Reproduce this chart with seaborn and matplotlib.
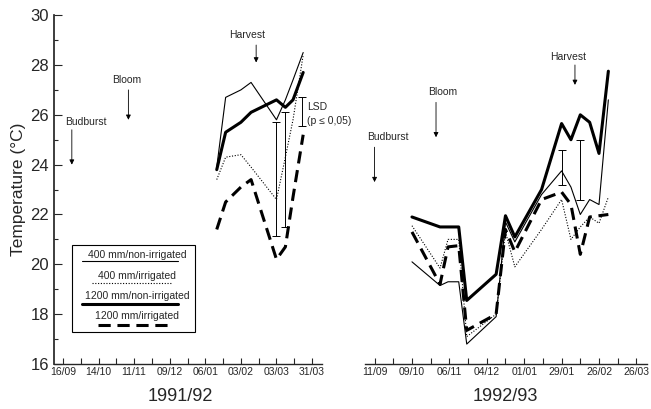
import numpy as np
import pandas as pd
import matplotlib
matplotlib.use("Agg")
import matplotlib.pyplot as plt
import seaborn as sns

# days since first tick (16/09/1991 and 11/09/1992)
days_9192 = [121, 128, 140, 148, 168, 175, 181, 189]
t_400_nonirr_9192 = [23.9, 26.7, 27.0, 27.3, 25.8, 26.6, 27.4, 28.5]
t_400_irr_9192 = [23.4, 24.3, 24.4, 23.9, 22.6, 24.3, 25.8, 28.4]
t_1200_nonirr_9192 = [23.8, 25.3, 25.7, 26.1, 26.6, 26.3, 26.6, 27.7]
t_1200_irr_9192 = [21.4, 22.5, 23.1, 23.4, 20.2, 20.7, 22.7, 25.2]

days_9293 = [28, 49, 55, 63, 69, 91, 98, 105, 125, 140, 147, 154, 161, 168, 175]
t_400_nonirr_9293 = [20.1, 19.15, 19.3, 19.3, 16.8, 17.9, 21.7, 20.9, 22.8, 23.75, 23.1, 22.0, 22.6, 22.4, 26.6]
t_400_irr_9293 = [21.55, 19.85, 21.0, 21.0, 17.1, 18.0, 21.3, 19.9, 21.4, 22.6, 21.0, 21.5, 21.9, 21.65, 22.7]
t_1200_nonirr_9293 = [21.9, 21.5, 21.5, 21.5, 18.55, 19.6, 21.95, 21.1, 23.0, 25.65, 25.0, 26.0, 25.7, 24.45, 27.75]
t_1200_irr_9293 = [21.3, 19.2, 20.7, 20.75, 17.35, 18.0, 21.4, 20.5, 22.6, 22.9, 22.4, 20.4, 21.9, 21.95, 22.0]

# LSD bars: (day, low, high)
lsd_9192 = [(168, 21.15, 25.7), (175, 21.5, 26.1), (188, 25.55, 26.7)]
lsd_9293 = [(140, 23.2, 24.6), (154, 22.6, 25.0)]

ticks_9192 = ["16/09", "14/10", "11/11", "09/12", "06/01", "03/02", "03/03", "31/03"]
ticks_9293 = ["11/09", "09/10", "06/11", "04/12", "01/01", "29/01", "26/02", "26/03"]

series = ["400 mm/non-irrigated", "400 mm/irrigated", "1200 mm/non-irrigated", "1200 mm/irrigated"]
styles = {
    "400 mm/non-irrigated": dict(linewidth=0.8, linestyle="-"),
    "400 mm/irrigated": dict(linewidth=0.8, linestyle=(0, (1, 1.5))),
    "1200 mm/non-irrigated": dict(linewidth=2.2, linestyle="-"),
    "1200 mm/irrigated": dict(linewidth=2.2, linestyle=(0, (4, 2.2))),
}

# stage markers: (label, text x, text y, arrow x, arrow top, arrow bottom)
events_9192 = [("Budburst", 18, 25.7, 7, 25.4, 24.0),
               ("Bloom", 50, 27.4, 51.5, 27.0, 25.8),
               ("Harvest", 145, 29.2, 152, 28.8, 28.1)]
events_9293 = [("Budburst", 10, 25.1, 0, 24.7, 23.3),
               ("Bloom", 51, 26.9, 46, 26.5, 25.1),
               ("Harvest", 145, 28.3, 150, 28.0, 27.2)]

sns.set_theme(style="ticks")
plt.rcParams["font.family"] = ["Liberation Sans", "DejaVu Sans"]

fig = plt.figure(figsize=(6.51, 4.09), dpi=100)
ax1 = fig.add_axes([0.083, 0.110, 0.412, 0.853])
ax2 = fig.add_axes([0.561, 0.110, 0.433, 0.853])

panels = [
    (ax1, days_9192, [t_400_nonirr_9192, t_400_irr_9192, t_1200_nonirr_9192, t_1200_irr_9192],
     lsd_9192, ticks_9192, events_9192, "1991/92"),
    (ax2, days_9293, [t_400_nonirr_9293, t_400_irr_9293, t_1200_nonirr_9293, t_1200_irr_9293],
     lsd_9293, ticks_9293, events_9293, "1992/93"),
]

for ax, days, vals, lsd, ticks, events, year in panels:
    for name, v in zip(series, vals):
        df = pd.DataFrame({"day": days, "temp": v})
        sns.lineplot(data=df, x="day", y="temp", ax=ax, color="black",
                     estimator=None, sort=False, **styles[name])
    for d, lo, hi in lsd:
        ax.errorbar([d], [(lo + hi) / 2], yerr=[(hi - lo) / 2], fmt="none",
                    ecolor="black", elinewidth=0.7, capsize=3, capthick=0.7)
    for label, tx, ty, axx, a0, a1 in events:
        ax.text(tx, ty, label, ha="center", va="center", fontsize=7.5)
        ax.annotate("", xy=(axx, a1), xytext=(axx, a0),
                    arrowprops=dict(arrowstyle="-|>", lw=0.6, color="black",
                                    mutation_scale=7, shrinkA=0, shrinkB=0))
    ax.set_xlim(-7, 204)
    ax.set_ylim(16, 30)
    ax.set_xticks(np.arange(0, 197, 28))
    ax.set_xticklabels(ticks, fontsize=7.5)
    ax.set_xticks(np.arange(14, 204, 28), minor=True)
    ax.tick_params(axis="x", which="both", direction="in", length=4, width=0.8, pad=2.5)
    ax.set_xlabel(year, fontsize=13)
    ax.spines["top"].set_visible(False)
    ax.spines["right"].set_visible(False)
    ax.spines["bottom"].set_linewidth(1.0)
    ax.grid(False)

ax1.set_yticks(np.arange(16, 31, 2))
ax1.set_yticks(np.arange(17, 30, 2), minor=True)
ax1.tick_params(axis="y", which="major", direction="in", length=6, width=0.8, labelsize=12)
ax1.tick_params(axis="y", which="minor", direction="in", length=3, width=0.8)
ax1.set_ylabel("Temperature (°C)", fontsize=12.5)
ax1.yaxis.set_label_coords(-0.105, 0.5)
ax1.xaxis.set_label_coords(0.47, -0.068)
ax2.xaxis.set_label_coords(0.496, -0.068)

ax2.spines["left"].set_visible(False)
ax2.set_yticks([])
ax2.set_ylabel("")

# LSD label
ax1.text(192, 26.3, "LSD", fontsize=7.5, ha="left", va="center", clip_on=False)
ax1.text(192, 25.75, "(p \u2264 0,05)", fontsize=7.5, ha="left", va="center", clip_on=False)

# legend box drawn by hand (samples below each label)
ax1.add_patch(plt.Rectangle((0.066, 0.093), 0.46, 0.248, transform=ax1.transAxes,
                            fill=False, edgecolor="black", linewidth=0.8))
text_y = [0.312, 0.253, 0.196, 0.138]
line_y = [0.295, 0.233, 0.172, 0.112]
line_x = [(0.103, 0.463), (0.14, 0.44), (0.103, 0.463), (0.164, 0.444)]
for name, ty, ly, (x0, x1) in zip(series, text_y, line_y, line_x):
    ax1.text(0.31, ty, name, transform=ax1.transAxes, ha="center", va="center", fontsize=7.5)
    ax1.plot([x0, x1], [ly, ly], transform=ax1.transAxes, color="black", **styles[name])

fig.savefig("out.png", dpi=100)
